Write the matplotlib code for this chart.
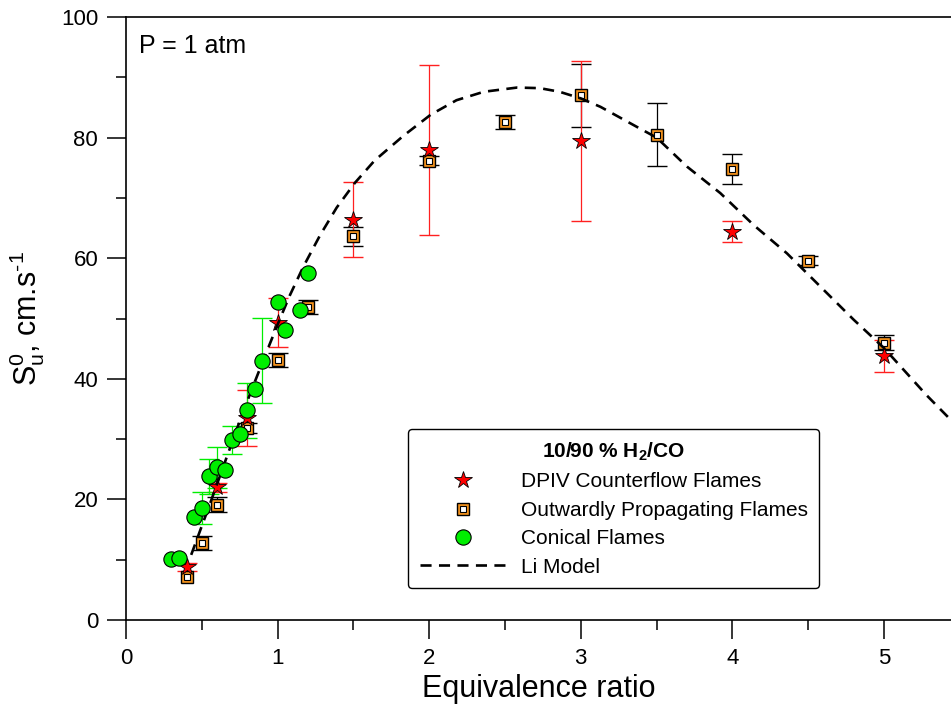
import numpy as np
import matplotlib
matplotlib.use('Agg')
import matplotlib.pyplot as plt
from matplotlib.legend_handler import HandlerTuple

plt.rcParams['font.family'] = ['Liberation Sans', 'DejaVu Sans']
plt.rcParams['mathtext.fontset'] = 'custom'
plt.rcParams['mathtext.rm'] = 'Liberation Sans'
plt.rcParams['mathtext.it'] = 'Liberation Sans:italic'
plt.rcParams['mathtext.bf'] = 'Liberation Sans:bold'

# DPIV counterflow flames
dpiv_phi = [0.4, 0.6, 0.8, 1.0, 1.5, 2.0, 3.0, 4.0, 5.0]
dpiv_su = [8.8, 22.0, 33.5, 49.3, 66.4, 78.0, 79.4, 64.4, 43.8]
dpiv_err = [0.6, 0.7, 4.6, 4.1, 6.2, 14.1, 13.3, 1.7, 2.6]

# outwardly propagating flames
out_phi = [0.4, 0.5, 0.6, 0.8, 1.0, 1.2, 1.5, 2.0, 2.5, 3.0, 3.5, 4.0, 4.5, 5.0]
out_su = [7.1, 12.8, 19.1, 31.8, 43.1, 51.9, 63.6, 76.2, 82.6, 87.0, 80.5, 74.8, 59.6, 46.0]
out_err = [np.nan, 1.15, 1.25, 0.8, 1.1, 1.1, 1.5, 0.8, 1.1, 5.2, 5.2, 2.5, 0.7, 1.2]

# conical flames
con_phi = [0.30, 0.35, 0.45, 0.50, 0.55, 0.60, 0.65, 0.70, 0.75, 0.80, 0.85, 0.90, 1.00, 1.05, 1.15, 1.20]
con_su = [10.1, 10.2, 17.1, 18.5, 23.8, 25.3, 24.8, 29.9, 30.8, 34.8, 38.3, 43.0, 52.8, 48.1, 51.4, 57.5]
con_err = [np.nan, np.nan, np.nan, 2.65, 2.9, 3.45, np.nan, 2.3, np.nan, 4.55, np.nan, 7.05,
           np.nan, np.nan, np.nan, np.nan]

# Li model
li_phi = [0.43, 0.55, 0.64, 0.73, 0.82, 0.92, 1.00, 1.08, 1.17, 1.28, 1.39, 1.51, 1.64, 1.83,
          2.01, 2.18, 2.36, 2.58, 2.73, 2.86, 3.00, 3.13, 3.26, 3.39, 3.50, 3.70, 3.92, 4.14,
          4.36, 4.58, 4.80, 5.00, 5.28, 5.44]
li_su = [10.8, 19.0, 25.3, 31.6, 37.6, 44.0, 49.0, 53.8, 58.6, 63.8, 68.4, 72.5, 76.2, 80.3,
         83.8, 86.2, 87.6, 88.3, 88.2, 87.6, 86.5, 85.1, 83.3, 81.5, 80.0, 75.2, 70.8, 65.5,
         60.8, 55.3, 49.8, 45.1, 37.3, 33.2]

orange = '#F7941D'
green = '#00EE00'
cap = 7.2

fig = plt.figure(figsize=(9.51, 7.14), dpi=100)
ax = fig.add_axes([126 / 951, 94 / 714, 825 / 951, 603 / 714])

# squares
_, caps, _ = ax.errorbar(out_phi, out_su, yerr=out_err, fmt='none', ecolor='black',
                         elinewidth=0.9, capsize=cap, capthick=1.0, zorder=2)
for c in caps:
    c.set_color('#444444')
sq_out, = ax.plot(out_phi, out_su, ls='none', marker='s', ms=9, mfc=orange, mec='black',
                  mew=1.0, zorder=3)
sq_in, = ax.plot(out_phi, out_su, ls='none', marker='s', ms=4.2, mfc='white', mec='black',
                 mew=0.8, zorder=3.1)

# stars
ax.errorbar(dpiv_phi, dpiv_su, yerr=dpiv_err, fmt='none', ecolor='#FF2020', elinewidth=0.9,
            capsize=cap, capthick=1.0, zorder=2.2)
star, = ax.plot(dpiv_phi, dpiv_su, ls='none', marker='*', ms=13, mfc='red', mec='black',
                mew=0.6, zorder=3.5)

# Li model
li_line, = ax.plot(li_phi, li_su, color='black', lw=1.9, dashes=(4.2, 2.8), zorder=4)

# circles
ax.errorbar(con_phi, con_su, yerr=con_err, fmt='none', ecolor=green, elinewidth=0.9,
            capsize=cap, capthick=1.0, zorder=2.4)
circ, = ax.plot(con_phi, con_su, ls='none', marker='o', ms=11, mfc=green, mec='black',
                mew=0.8, zorder=4.5)

ax.set_xlim(0, 5.442)
ax.set_ylim(0, 100)
ax.set_xticks([0, 1, 2, 3, 4, 5])
ax.set_xticks(np.arange(0.5, 5.5, 1.0), minor=True)
ax.set_yticks([0, 20, 40, 60, 80, 100])
ax.set_yticks([10, 30, 50, 70, 90], minor=True)
ax.tick_params(which='major', direction='out', length=14, width=1.1, labelsize=16, pad=6)
ax.tick_params(which='minor', direction='out', length=7, width=1.1)
ax.spines['right'].set_visible(False)
for s in ['left', 'bottom', 'top']:
    ax.spines[s].set_linewidth(1.2)

ax.set_xlabel('Equivalence ratio', fontsize=22, labelpad=4)
ax.set_ylabel(r'S$_\mathrm{u}^\mathrm{0}$, cm.s$^{\text{-}\mathrm{1}}$', fontsize=22, labelpad=10)

ax.text(0.016, 0.952, 'P = 1 atm', transform=ax.transAxes, fontsize=18, va='center', ha='left')

leg = ax.legend([star, (sq_out, sq_in), circ, li_line],
                ['DPIV Counterflow Flames', 'Outwardly Propagating Flames', 'Conical Flames',
                 'Li Model'],
                handler_map={tuple: HandlerTuple(ndivide=1, pad=0)},
                title=r'10/90 % H$_\mathbf{2}$/CO', title_fontproperties={'weight': 'bold', 'size': 15},
                fontsize=15, loc='lower left', bbox_to_anchor=(0.342, 0.053),
                borderaxespad=0, handlelength=4.2, handletextpad=0.65, labelspacing=0.45,
                borderpad=0.55, fancybox=True, framealpha=1, edgecolor='black', numpoints=1)
leg.get_frame().set_linewidth(1.0)

fig.savefig('out.png', dpi=100)
